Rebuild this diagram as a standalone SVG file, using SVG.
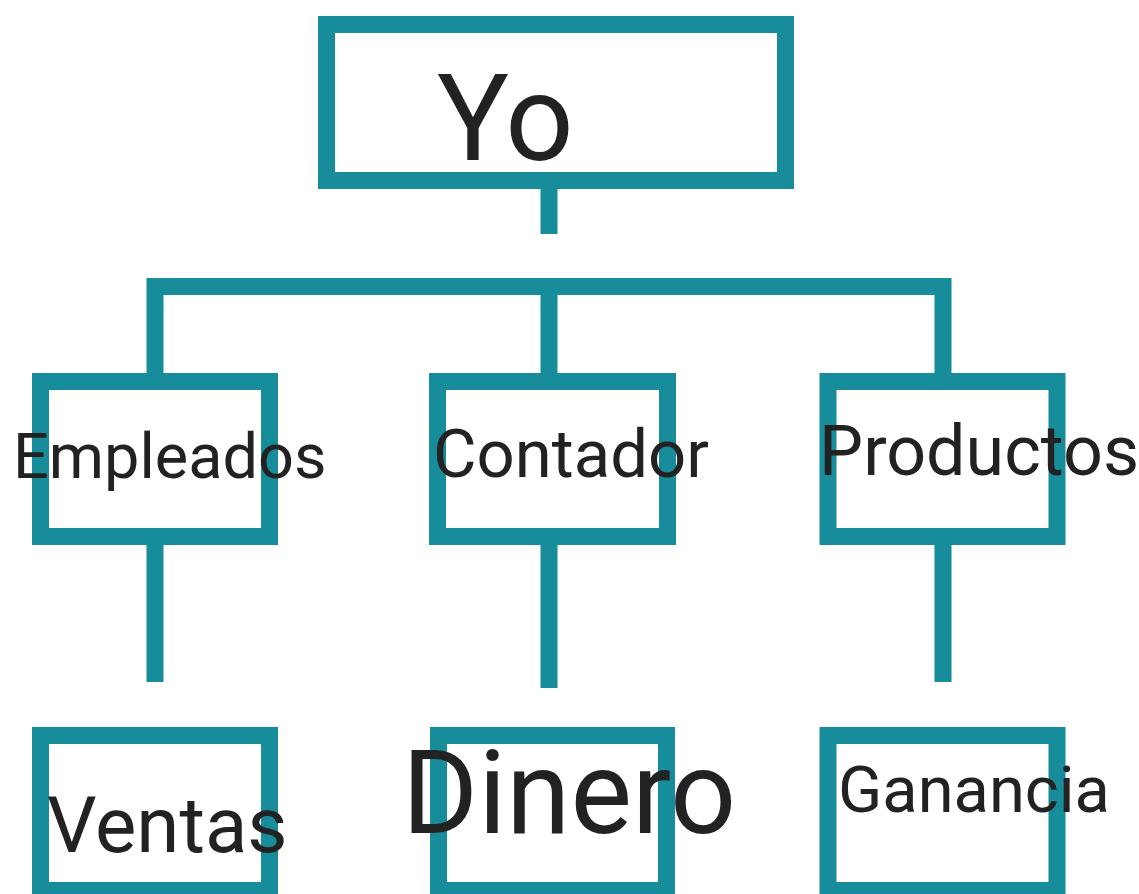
<svg xmlns="http://www.w3.org/2000/svg" width="1139" height="894" viewBox="0 0 1139 894">
<style>
.box{fill:#ffffff;stroke:#178c9a;stroke-width:17}
.ln{stroke:#178c9a;stroke-width:17;fill:none;stroke-linecap:butt}
.t{font-family:Roboto,"Liberation Sans",sans-serif;fill:#222222}
</style>
<rect width="1139" height="894" fill="#ffffff"/>
<g id="connectors">
<line class="ln" x1="549" y1="185" x2="549" y2="234"/>
<polyline class="ln" points="155,382 155,286.5 943,286.5 943,382"/>
<line class="ln" x1="549" y1="286" x2="549" y2="382"/>
<line class="ln" x1="155" y1="540" x2="155" y2="682"/>
<line class="ln" x1="549" y1="540" x2="549" y2="688"/>
<line class="ln" x1="943" y1="540" x2="943" y2="682"/>
</g>
<g id="node-yo">
<rect class="box" x="326.5" y="24.5" width="459" height="156"/>
<text class="t" x="437" y="160" font-size="120">Yo</text>
</g>
<g id="node-empleados">
<rect class="box" x="40.5" y="381.5" width="229" height="155"/>
<text class="t" x="13" y="478" font-size="63">Empleados</text>
</g>
<g id="node-contador">
<rect class="box" x="437.5" y="381.5" width="230" height="155"/>
<text class="t" x="433" y="477" font-size="67">Contador</text>
</g>
<g id="node-productos">
<rect class="box" x="828" y="381.5" width="229" height="155"/>
<text class="t" x="819" y="475" font-size="70">Productos</text>
</g>
<g id="node-ventas">
<rect class="box" x="40.5" y="735.5" width="229" height="155"/>
<text class="t" x="47" y="852" font-size="78">Ventas</text>
</g>
<g id="node-dinero">
<rect class="box" x="438.5" y="735.5" width="228" height="155"/>
<text class="t" x="402" y="833" font-size="116">Dinero</text>
</g>
<g id="node-ganancia">
<rect class="box" x="828" y="735.5" width="229" height="155"/>
<text class="t" x="838" y="812" font-size="65">Ganancia</text>
</g>
</svg>
